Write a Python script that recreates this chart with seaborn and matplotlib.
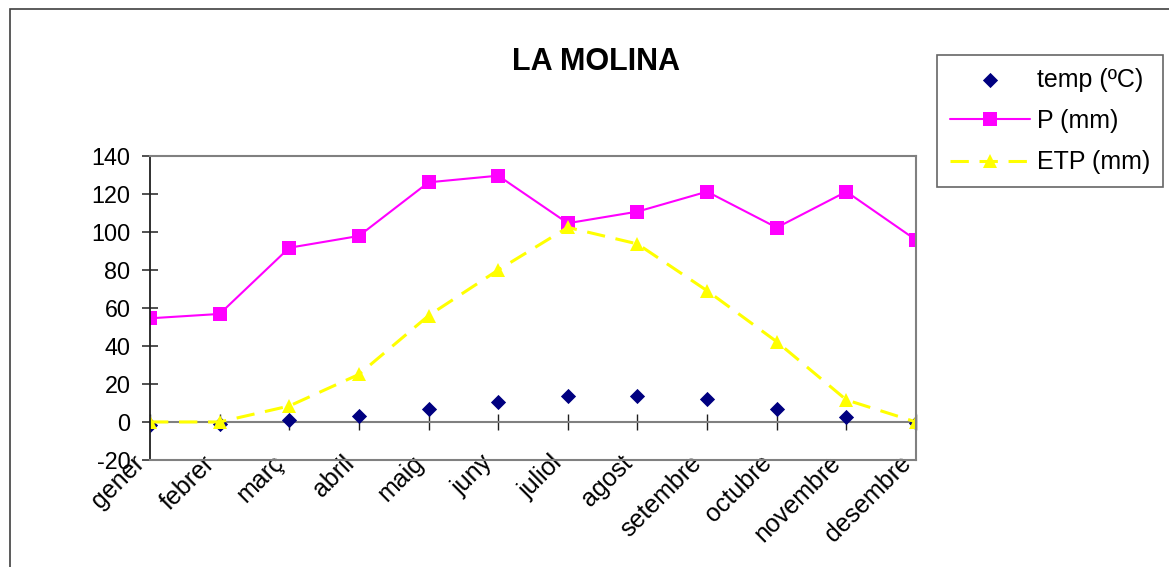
import numpy as np
import pandas as pd
import matplotlib
matplotlib.use("Agg")
import matplotlib.pyplot as plt
from matplotlib.patches import Rectangle
from matplotlib.transforms import ScaledTranslation
import seaborn as sns

# Monthly climate data for La Molina
months = ["gener", "febrer", "març", "abril", "maig", "juny", "juliol",
          "agost", "setembre", "octubre", "novembre", "desembre"]
temp_c = [-1.5, -1.0, 1.0, 3.3, 6.6, 10.5, 13.7, 13.7, 11.9, 6.6, 2.5, -0.3]
precip_mm = [54.5, 56.8, 91.6, 97.8, 126.0, 129.5, 104.5, 110.6, 121.1, 102.2, 121.1, 95.7]
etp_mm = [0.0, 0.0, 8.4, 25.0, 55.9, 79.9, 102.3, 93.6, 69.0, 42.2, 11.6, 0.0]
y_ticks = [-20, 0, 20, 40, 60, 80, 100, 120, 140]

df = pd.DataFrame({
    "pos": np.arange(len(months)),
    "month": months,
    "temp": temp_c,
    "P": precip_mm,
    "ETP": etp_mm,
})

sns.set_theme(style="white")
plt.rcParams["font.family"] = ["Liberation Sans", "DejaVu Sans"]
plt.rcParams["text.color"] = "black"

fig = plt.figure(figsize=(11.69, 5.67), dpi=100)
ax = fig.add_axes([150 / 1169, 1 - 460 / 567, 766 / 1169, 304.3 / 567])

# outer chart frame
fig.patches.append(Rectangle((10 / 1169, -0.2), 1.2, 1 - 9 / 567 + 0.2,
                             transform=fig.transFigure, fill=False,
                             edgecolor="#404040", linewidth=1.2))

sns.lineplot(data=df, x="pos", y="P", ax=ax, color="#FF00FF", linewidth=1.5,
             marker="s", markersize=10.5, markeredgewidth=0, label="P (mm)",
             legend=False)
sns.lineplot(data=df, x="pos", y="ETP", ax=ax, color="#FFFF00", linewidth=2.2,
             linestyle=(0, (6, 3.5)), marker="^", markersize=10.5,
             markeredgewidth=0, label="ETP (mm)", legend=False)
sns.scatterplot(data=df, x="pos", y="temp", ax=ax, color="#000080",
                marker="D", s=60, linewidth=0, label="temp (ºC)", legend=False,
                zorder=1.5)

ax.set_xlim(0, len(months) - 1)
ax.set_ylim(-20, 140)
ax.set_yticks(y_ticks)
ax.set_yticklabels([str(v) for v in y_ticks])
ax.set_xticks(df["pos"])
ax.set_xticklabels(months, rotation=45, ha="right", va="center",
                   rotation_mode="anchor")
ax.set_xlabel("")
ax.set_ylabel("")

for side in ["top", "right", "bottom"]:
    ax.spines[side].set_color("#808080")
    ax.spines[side].set_linewidth(1.5)
ax.spines["left"].set_color("#202020")
ax.spines["left"].set_linewidth(1.3)

ax.tick_params(axis="y", which="major", direction="inout", length=12,
               width=1.1, color="#202020", labelsize=16.8, pad=8,
               left=True, labelcolor="black")
ax.tick_params(axis="x", which="major", length=0, labelsize=18, pad=1,
               labelcolor="black")

# shift the rotated month names slightly left of their ticks
shift = ScaledTranslation(-9 / 100, 2 / 100, fig.dpi_scale_trans)
for lbl in ax.xaxis.get_majorticklabels():
    lbl.set_transform(lbl.get_transform() + shift)

# category axis crossing at zero
zero_frac = (0 - (-20)) / 160
sec = ax.secondary_xaxis(zero_frac)
sec.set_xticks(df["pos"])
sec.set_xticklabels([])
sec.spines["bottom"].set_color("#808080")
sec.spines["bottom"].set_linewidth(1.5)
sec.tick_params(axis="x", direction="inout", length=12, width=1.0,
                color="#202020")

fig.text(596 / 1169, 1 - 62 / 567, "LA MOLINA", ha="center", va="center",
         fontsize=22, fontweight="bold", color="black")

handles, labels = ax.get_legend_handles_labels()
order = [labels.index("temp (ºC)"), labels.index("P (mm)"),
         labels.index("ETP (mm)")]
leg = fig.legend([handles[i] for i in order], [labels[i] for i in order],
                 loc="upper left", bbox_to_anchor=(937 / 1169, 1 - 55 / 567),
                 fontsize=18, frameon=True, fancybox=False, handlelength=3.2,
                 handletextpad=0.3, labelspacing=0.7, borderpad=0.5,
                 borderaxespad=0)
leg.get_frame().set_edgecolor("#404040")
leg.get_frame().set_linewidth(1.2)
for t in leg.get_texts():
    t.set_color("black")

fig.savefig("out.png", dpi=100, facecolor="white")
